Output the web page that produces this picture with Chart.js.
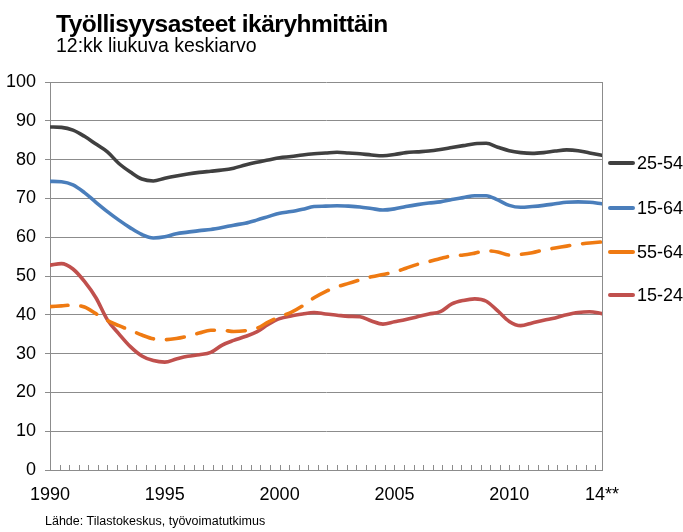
<!DOCTYPE html>
<html lang="fi">
<head>
<meta charset="utf-8">
<title>Työllisyysasteet ikäryhmittäin</title>
<script src="https://cdn.jsdelivr.net/npm/chart.js@4.4.1/dist/chart.umd.min.js"></script>
<style>
    body { margin: 0; background: #fff; font-family: "Liberation Sans", Arial, sans-serif; }
    #wrap { position: relative; width: 683px; height: 532px; overflow: hidden; }
    #chart { position: absolute; left: 0; top: 0; }
    .txt { position: absolute; white-space: nowrap; color: #000; line-height: 1; }
    #title { left: 56px; top: 11.6px; font-size: 24.5px; font-weight: bold; letter-spacing: -0.5px; }
    #subtitle { left: 56px; top: 36.2px; font-size: 19.5px; }
    #source { left: 45px; top: 515px; font-size: 12.5px; }
    .leg { position: absolute; left: 608px; width: 90px; height: 18px; display: flex; align-items: center; white-space: nowrap; font-size: 18px; line-height: 18px; }
    .leg span.mark { display: inline-block; flex: none; width: 27px; height: 4px; border-radius: 2px; margin-right: 2px; }
</style>
</head>
<body>
<div id="wrap">
    <canvas id="chart" width="683" height="532"></canvas>
    <div class="txt" id="title">Työllisyysasteet ikäryhmittäin</div>
    <div class="txt" id="subtitle">12:kk liukuva keskiarvo</div>
    <div class="txt" id="source">Lähde: Tilastokeskus, työvoimatutkimus</div>
</div>
<script>
// puolivuosittain luetut arvot (%)
const years = [
    1990, 1990.5, 1991, 1991.5, 1992, 1992.5, 1993, 1993.5, 1994, 1994.5,
    1995, 1995.5, 1996, 1996.5, 1997, 1997.5, 1998, 1998.5, 1999, 1999.5,
    2000, 2000.5, 2001, 2001.5, 2002, 2002.5, 2003, 2003.5, 2004, 2004.5,
    2005, 2005.5, 2006, 2006.5, 2007, 2007.5, 2008, 2008.5, 2009, 2009.5,
    2010, 2010.5, 2011, 2011.5, 2012, 2012.5, 2013, 2013.5, 2014.04
];

const age25_54 = [
    88.4, 88.3, 87.6, 86.0, 84.0, 82.0, 79.0, 76.8, 75.0, 74.5,
    75.2, 75.8, 76.3, 76.7, 77.0, 77.3, 77.8, 78.6, 79.3, 79.9,
    80.5, 80.8, 81.2, 81.5, 81.7, 81.9, 81.7, 81.5, 81.2, 81.0,
    81.3, 81.8, 82.0, 82.2, 82.6, 83.1, 83.6, 84.1, 84.2, 83.2,
    82.3, 81.8, 81.6, 81.8, 82.2, 82.5, 82.3, 81.7, 81.1
];

const age15_64 = [
    74.4, 74.3, 73.5, 71.5, 69.0, 66.6, 64.4, 62.4, 60.7, 59.8,
    60.1, 60.9, 61.3, 61.7, 62.0, 62.5, 63.1, 63.6, 64.4, 65.3,
    66.2, 66.6, 67.2, 67.9, 68.0, 68.1, 68.0, 67.8, 67.4, 67.0,
    67.3, 67.9, 68.4, 68.8, 69.1, 69.7, 70.2, 70.7, 70.7, 69.6,
    68.2, 67.7, 67.9, 68.2, 68.6, 69.0, 69.1, 69.0, 68.6
];

const age55_64 = [
    42.1, 42.3, 42.5, 42.0, 40.3, 38.5, 37.2, 36.0, 34.8, 33.8,
    33.6, 33.9, 34.5, 35.3, 36.0, 36.0, 35.7, 35.9, 36.5, 38.1,
    39.5, 40.6, 42.3, 44.4, 46.0, 47.2, 48.1, 49.0, 49.8, 50.4,
    51.0, 52.0, 53.0, 53.7, 54.5, 55.2, 55.4, 55.9, 56.5, 56.2,
    55.4, 55.6, 56.0, 56.7, 57.2, 57.7, 58.2, 58.5, 58.8
];

const age15_24 = [
    52.8, 53.2, 51.8, 48.6, 44.4, 38.7, 35.1, 31.8, 29.4, 28.2,
    27.8, 28.6, 29.3, 29.7, 30.3, 32.2, 33.4, 34.4, 35.6, 37.5,
    39.0, 39.7, 40.2, 40.6, 40.2, 39.9, 39.6, 39.5, 38.4, 37.6,
    38.2, 38.8, 39.5, 40.2, 40.8, 42.8, 43.7, 44.1, 43.5, 41.0,
    38.3, 37.2, 37.9, 38.6, 39.2, 40.0, 40.6, 40.8, 40.3
];

const seriesLabels = ['25-54', '15-64', '55-64', '15-24'];
const seriesColors = ['#404040', '#4a7ebb', '#ef7a12', '#c0504d'];
const xLabelYears = [1990, 1995, 2000, 2005, 2010];
const xLastLabel = '14**';
const yTicks = [0, 10, 20, 30, 40, 50, 60, 70, 80, 90, 100];

const gridGrey = '#8c8c8c';
const xMin = 1990, xMax = 2014.04;

const toPoints = (vals) => vals.map((v, i) => ({ x: years[i], y: v }));

const makeSet = (i, vals, dashed) => ({
    label: seriesLabels[i],
    data: toPoints(vals),
    borderColor: seriesColors[i],
    backgroundColor: seriesColors[i],
    borderWidth: 3.6,
    borderDash: dashed ? [18, 13] : [],
    borderCapStyle: 'round',
    borderJoinStyle: 'round',
    pointRadius: 0,
    cubicInterpolationMode: 'monotone',
    fill: false
});

// pienet väliviivat x-akselilla (5 kk välein) + oikea reuna
const axisDecor = {
    id: 'axisDecor',
    afterDatasetsDraw(chart) {
        const { ctx, chartArea } = chart;
        const xs = chart.scales.x;
        ctx.save();
        ctx.strokeStyle = gridGrey;
        ctx.lineWidth = 1;
        ctx.beginPath();
        for (let k = 1; ; k++) {
            const v = xMin + k * 5 / 12;
            if (v > xMax) break;
            const px = Math.round(xs.getPixelForValue(v)) + 0.5;
            ctx.moveTo(px, chartArea.bottom);
            ctx.lineTo(px, chartArea.bottom - 5);
        }
        const rx = Math.round(chartArea.right) + 0.5;
        ctx.moveTo(rx, chartArea.top);
        ctx.lineTo(rx, chartArea.bottom);
        ctx.stroke();
        ctx.restore();
    }
};

const ctx = document.getElementById('chart').getContext('2d');
const myChart = new Chart(ctx, {
    type: 'line',
    data: {
        datasets: [
            makeSet(0, age25_54, false),
            makeSet(1, age15_64, false),
            makeSet(2, age55_64, true),
            makeSet(3, age15_24, false)
        ]
    },
    options: {
        responsive: false,
        animation: false,
        layout: { padding: { top: 82, right: 81, bottom: 0, left: 0 } },
        plugins: {
            legend: { display: false },
            tooltip: { enabled: false }
        },
        scales: {
            x: {
                type: 'linear',
                min: xMin,
                max: xMax,
                afterBuildTicks: (axis) => {
                    axis.ticks = xLabelYears.map(v => ({ value: v })).concat([{ value: xMax }]);
                },
                afterFit: (axis) => { axis.height = 62; },
                grid: { display: false, drawTicks: false },
                border: { display: true, color: gridGrey, width: 1 },
                ticks: {
                    padding: 14,
                    color: '#000',
                    maxRotation: 0,
                    autoSkip: false,
                    font: { family: '"Liberation Sans", Arial, sans-serif', size: 18 },
                    callback: (value) => value === xMax ? xLastLabel : String(Math.round(value))
                }
            },
            y: {
                min: 0,
                max: 100,
                afterBuildTicks: (axis) => { axis.ticks = yTicks.map(v => ({ value: v })); },
                afterFit: (axis) => { axis.width = 50; },
                grid: { color: gridGrey, lineWidth: 1, tickLength: 5, drawTicks: true },
                border: { display: true, color: gridGrey, width: 1 },
                ticks: {
                    padding: 9,
                    color: '#000',
                    font: { family: '"Liberation Sans", Arial, sans-serif', size: 18 }
                }
            }
        }
    },
    plugins: [axisDecor]
});

// selite oikealle
const legendY = [163.3, 207.5, 251.5, 295.2];
const wrap = document.getElementById('wrap');
myChart.data.datasets.forEach((ds, i) => {
    const item = document.createElement('div');
    item.className = 'leg';
    item.style.top = (legendY[i] - 9) + 'px';
    item.innerHTML = `<span class="mark" style="background:${ds.borderColor}"></span><span>${ds.label}</span>`;
    wrap.appendChild(item);
});
</script>
</body>
</html>
